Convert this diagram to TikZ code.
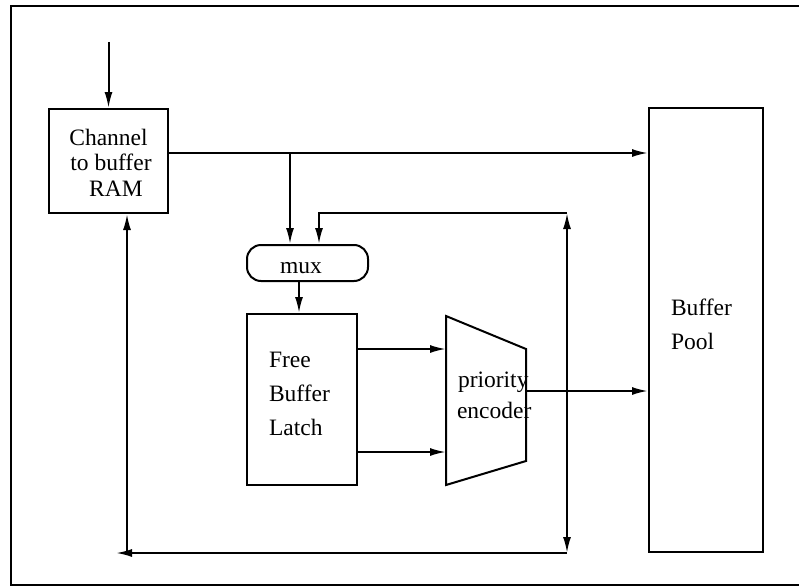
\documentclass[tikz,border=0pt]{standalone}
\usepackage{fontspec}
\setmainfont{Liberation Serif}
\usetikzlibrary{arrows.meta}
\begin{document}
\begin{tikzpicture}[x=1pt,y=-1pt,
  line width=2pt,
  box/.style={draw,rectangle,inner sep=0pt},
  txt/.style={inner sep=0pt,font=\fontsize{23.5}{26}\selectfont},
  arr/.style={-{Latex[length=16pt,width=8pt]}},
  darr/.style={{Latex[length=16pt,width=8pt]}-{Latex[length=16pt,width=8pt]}}]
\useasboundingbox (0,0) rectangle (799,586);
% frame
\draw[line width=1.8pt] (799,6) -- (11,6) -- (11,585) -- (799,585);
% boxes
\node[box,minimum width=119pt,minimum height=104pt] (chan) at (108.5,161) {};
\node[box,minimum width=114pt,minimum height=444pt] (pool) at (706,330) {};
\node[box,minimum width=110pt,minimum height=171pt] (latch) at (302,399.5) {};
\node[box,rounded corners=14pt,minimum width=121pt,minimum height=36pt] (mux) at (307.5,263) {};
% encoder trapezoid
\coordinate (encTL) at (446,316);
\coordinate (encBL) at (446,485);
\coordinate (encTR) at (526,349);
\coordinate (encBR) at (526,461);
\coordinate (encL) at (446,400);
\coordinate (encOut) at (526,391);
\draw (encTL) -- (encTR) -- (encBR) -- (encBL) -- cycle;
% texts
\node[txt,anchor=base] (t1) at (108.5,145) {Channel};
\node[txt,anchor=base] (t2) at (111,170) {to buffer};
\node[txt,anchor=base] (t3) at (116,196) {RAM};
\node[txt,anchor=base] (t4) at (301,273) {mux};
\node[txt,anchor=base west] (t5) at (268,367) {Free};
\node[txt,anchor=base west] (t6) at (268,401) {Buffer};
\node[txt,anchor=base west] (t7) at (268,435) {Latch};
\node[txt,anchor=base west] (t8) at (457,387) {priority};
\node[txt,anchor=base west] (t9) at (456,418) {encoder};
\node[txt,anchor=base west] (t10) at (670,315) {Buffer};
\node[txt,anchor=base west] (t11) at (670,349) {Pool};
% connectors
\coordinate (inTop) at (108.5,42);
\draw[arr] (inTop) -- (chan.north);
\draw[arr] ([yshift=8pt]chan.east) -- ([yshift=8pt]chan.east -| pool.west);
\coordinate (br) at (290,153);
\draw[arr] (br) -- (br |- mux.north);
\coordinate (fbT) at (567,213);
\coordinate (fbB) at (567,553);
\draw[arr] (fbT) -| ([xshift=11.5pt]mux.north);
\draw[darr] (fbB) -- (fbT);
\coordinate (retEnd) at (116,553);
\draw[arr] (fbB) -- (retEnd);
\coordinate (retUp) at (127,553);
\draw[arr] (retUp) -- (retUp |- chan.south);
\draw[arr] ([xshift=-3pt]latch.north |- mux.south) -- ([xshift=-3pt]latch.north);
\draw[arr] ([yshift=50.5pt]latch.east) -- ([yshift=50.5pt]latch.east -| encL);
\draw[arr] ([yshift=-52.5pt]latch.east) -- ([yshift=-52.5pt]latch.east -| encL);
\draw[arr] (encOut) -- (encOut -| pool.west);
\end{tikzpicture}
\end{document}
